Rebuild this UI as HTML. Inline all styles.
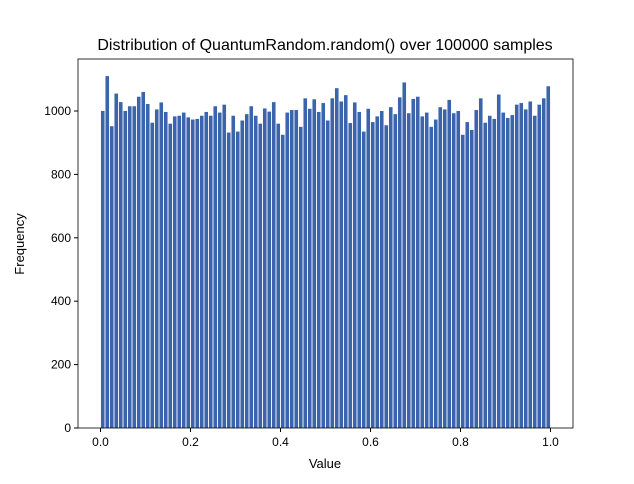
<!DOCTYPE html>
<html><head><meta charset="utf-8"><style>
body{margin:0;background:#fff;font-family:"Liberation Sans",sans-serif;}
</style></head><body>
<svg width="634" height="479" xmlns="http://www.w3.org/2000/svg">
<rect width="634" height="479" fill="#fff"/>
<text x="325" y="50" font-size="16" text-anchor="middle">Distribution of QuantumRandom.random() over 100000 samples</text>
<g id="bars"></g>
<g id="axes"></g>
<rect x="78" y="59" width="495" height="369" fill="none" stroke="#000" stroke-width="0.8"/>
<text x="325" y="468" font-size="13" text-anchor="middle">Value</text>
<text x="24" y="244" font-size="13" text-anchor="middle" transform="rotate(-90 24 244)">Frequency</text>
</svg>
<script>
const counts=[1000,1110,952,1055,1028,1000,1015,1015,1045,1060,1022,963,1005,1027,997,960,983,985,995,980,973,975,985,997,985,1015,995,1020,932,985,935,970,990,1015,985,960,1008,998,1028,960,925,995,1003,1003,950,1040,1007,1037,997,1025,970,1040,1072,1030,1050,962,1027,997,935,1007,965,983,1000,955,1012,990,1043,1090,993,1038,1045,983,995,950,973,1012,1005,1035,993,1000,925,965,940,1003,1040,963,985,975,1052,995,978,987,1020,1025,1005,1030,985,1020,1040,1078];
const xTicks=[0,0.2,0.4,0.6,0.8,1.0];
const xTickLabels=["0.0","0.2","0.4","0.6","0.8","1.0"];
const yTicks=[0,200,400,600,800,1000];
const NS="http://www.w3.org/2000/svg";
const X0=78,X1=573,Y0=428,Y1=59,xmin=-0.05,xmax=1.05,ymax=1164;
const sx=v=>X0+(v-xmin)/(xmax-xmin)*(X1-X0);
const sy=v=>Y0-v/ymax*(Y0-Y1);
const bars=document.getElementById('bars'),axes=document.getElementById('axes');
const n=counts.length,bw=1/n;
counts.forEach((c,i)=>{
 const r=document.createElementNS(NS,'rect');
 const l=sx(i*bw+bw*0.1),rr=sx(i*bw+bw*0.9);
 r.setAttribute('x',l);r.setAttribute('width',rr-l);
 r.setAttribute('y',sy(c));r.setAttribute('height',sy(0)-sy(c));
 r.setAttribute('fill','#3b64ac');
 
 
 bars.appendChild(r);
});
xTicks.forEach((t,i)=>{
 const x=sx(t);
 const l=document.createElementNS(NS,'line');
 l.setAttribute('x1',x);l.setAttribute('x2',x);l.setAttribute('y1',Y0);l.setAttribute('y2',Y0+4);l.setAttribute('stroke','#000');
 
 
 axes.appendChild(l);
 const tx=document.createElementNS(NS,'text');
 tx.setAttribute('x',x);tx.setAttribute('y',Y0+18);tx.setAttribute('font-size','12');tx.setAttribute('text-anchor','middle');
 tx.textContent=xTickLabels[i];
 
 
 axes.appendChild(tx);
});
yTicks.forEach(t=>{
 const y=sy(t);
 const l=document.createElementNS(NS,'line');
 l.setAttribute('x1',X0-4);l.setAttribute('x2',X0);l.setAttribute('y1',y);l.setAttribute('y2',y);l.setAttribute('stroke','#000');
 
 
 axes.appendChild(l);
 const tx=document.createElementNS(NS,'text');
 tx.setAttribute('x',X0-7);tx.setAttribute('y',y+4);tx.setAttribute('font-size','12');tx.setAttribute('text-anchor','end');
 tx.textContent=t;
 
 
 axes.appendChild(tx);
});
</script>
</body></html>
